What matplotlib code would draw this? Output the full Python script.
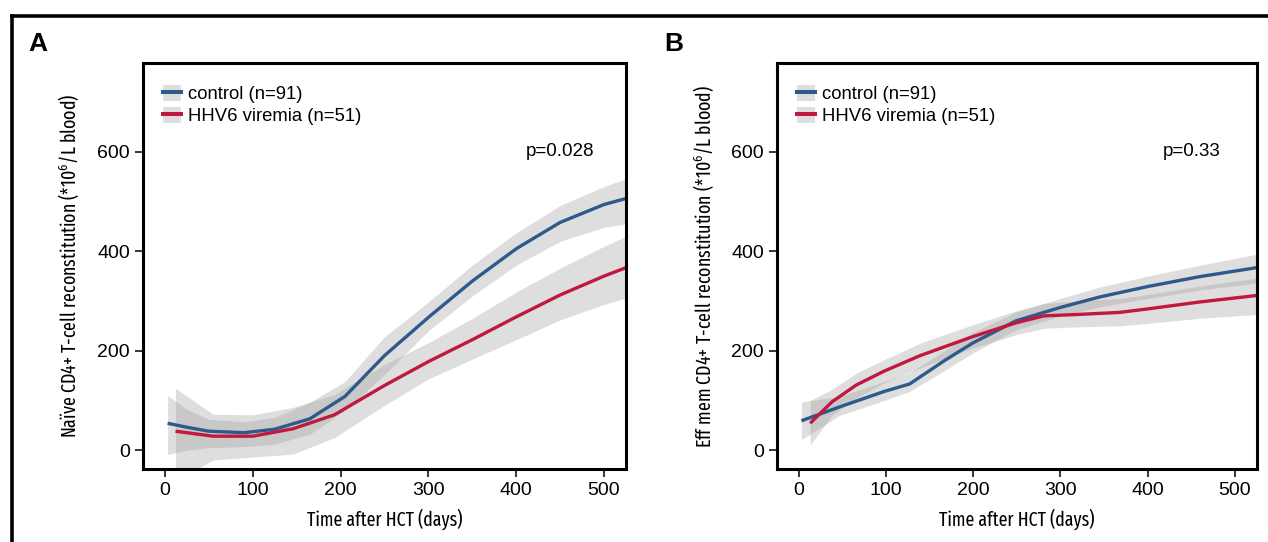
import matplotlib
matplotlib.use("Agg")
import matplotlib.pyplot as plt
from matplotlib.lines import Line2D
from matplotlib.patches import Patch
from matplotlib import font_manager

# ---------------- data ----------------
# Panel A: naive CD4+
a_ctrl_x = [3, 25, 50, 90, 125, 165, 205, 250, 300, 350, 400, 450, 500, 525]
a_ctrl_y = [54, 46, 38, 35, 42, 63, 108, 190, 267, 340, 405, 458, 494, 506]
a_ctrl_lo = [-9, 0, 5, 7, 12, 32, 80, 152, 240, 310, 372, 420, 448, 455]
a_ctrl_hi = [110, 82, 62, 57, 66, 96, 138, 228, 298, 372, 437, 492, 530, 546]

a_hhv_x = [12, 55, 100, 146, 193, 250, 300, 350, 400, 450, 500, 525]
a_hhv_y = [38, 28, 28, 43, 71, 130, 178, 222, 268, 312, 350, 367]
a_hhv_lo = [-61, -20, -14, -8, 25, 90, 143, 183, 222, 262, 293, 306]
a_hhv_hi = [124, 72, 71, 86, 112, 172, 216, 265, 318, 366, 410, 430]

# Panel B: effector memory CD4+
b_ctrl_x = [3, 47, 98, 127, 167, 199, 249, 300, 345, 400, 460, 525]
b_ctrl_y = [59, 87, 118, 133, 180, 215, 260, 287, 308, 329, 349, 367]
b_ctrl_lo = [21, 70, 100, 118, 160, 195, 242, 270, 288, 305, 322, 336]
b_ctrl_hi = [97, 108, 138, 155, 200, 236, 278, 305, 328, 350, 372, 394]

b_hhv_x = [13, 38, 66, 98, 139, 199, 249, 281, 322, 368, 400, 460, 525]
b_hhv_y = [54, 97, 131, 159, 190, 228, 256, 270, 273, 277, 284, 298, 311]
b_hhv_lo = [10, 70, 105, 135, 165, 205, 232, 245, 248, 250, 255, 265, 273]
b_hhv_hi = [100, 122, 155, 182, 215, 252, 280, 295, 300, 305, 313, 330, 346]

x_ticks = [0, 100, 200, 300, 400, 500]
y_ticks = [0, 200, 400, 600]
labels = ["control (n=91)", "HHV6 viremia (n=51)"]
p_values = ["p=0.028", "p=0.33"]
panel_letters = ["A", "B"]
ylabels = ["Naïve CD4+ T-cell reconstitution (*10$^6$/L blood)",
           "Eff mem CD4+ T-cell reconstitution (*10$^6$/L blood)"]
xlabel = "Time after HCT (days)"

# ---------------- style ----------------
BLUE = "#2e5a8b"
RED = "#c0183e"
BAND = "#9a9a9a"
BAND_ALPHA = 0.32

names = {f.name for f in font_manager.fontManager.ttflist}


def pick(cands, default):
    for c in cands:
        if c in names:
            return c
    return default


narrow = pick(["Fira Sans Extra Condensed", "Roboto Condensed", "Archivo Narrow",
               "PT Sans Narrow", "Fira Sans Condensed"], "DejaVu Sans")
main = pick(["Arimo", "Liberation Sans"], "DejaVu Sans")
plt.rcParams["font.family"] = [main, "DejaVu Sans"]
plt.rcParams["mathtext.fontset"] = "custom"
plt.rcParams["mathtext.rm"] = narrow
plt.rcParams["mathtext.it"] = narrow

fig = plt.figure(figsize=(12.68, 5.42), dpi=100)

# figure frame lines (top and left)
fig.add_artist(Line2D([12 / 1268, 1.0], [1 - 15.5 / 542] * 2, transform=fig.transFigure,
                      color="black", lw=2.6, solid_capstyle="projecting"))
fig.add_artist(Line2D([12 / 1268] * 2, [0.0, 1 - 15.5 / 542], transform=fig.transFigure,
                      color="black", lw=2.6, solid_capstyle="projecting"))

axes_pos = [[143 / 1268, 1 - 469 / 542, 483 / 1268, 405.7 / 542],
            [777 / 1268, 1 - 469 / 542, 479.7 / 1268, 405.7 / 542]]
letter_x = [28 / 1268, 664 / 1268]

panels = [
    ((a_ctrl_x, a_ctrl_y, a_ctrl_lo, a_ctrl_hi), (a_hhv_x, a_hhv_y, a_hhv_lo, a_hhv_hi)),
    ((b_ctrl_x, b_ctrl_y, b_ctrl_lo, b_ctrl_hi), (b_hhv_x, b_hhv_y, b_hhv_lo, b_hhv_hi)),
]

for i, (ctrl, hhv) in enumerate(panels):
    ax = fig.add_axes(axes_pos[i])
    for (x, y, lo, hi), col in ((ctrl, BLUE), (hhv, RED)):
        ax.fill_between(x, lo, hi, color=BAND, alpha=BAND_ALPHA, lw=0)
    for (x, y, lo, hi), col in ((ctrl, BLUE), (hhv, RED)):
        ax.plot(x, y, color=col, lw=2.4, solid_capstyle="butt")
    ax.set_xlim(-25, 525)
    ax.set_ylim(-38, 778)
    ax.set_xticks(x_ticks)
    ax.set_yticks(y_ticks)
    for s in ax.spines.values():
        s.set_linewidth(2.2)
    ax.tick_params(axis="both", direction="out", length=5.5, width=1.1,
                   labelsize=14, pad=4, color="black")
    ax.set_xlabel(xlabel, fontsize=14, family=narrow)
    ax.set_ylabel(ylabels[i], fontsize=14, family=narrow)
    ax.xaxis.set_label_coords(0.5, -0.097)
    ax.yaxis.set_label_coords(-0.128, 0.5)
    ax.text(450, 600, p_values[i], fontsize=13.5, ha="center", va="center")

    handles = [(Patch(facecolor="#dedede", edgecolor="none"), Line2D([], [], color=BLUE, lw=2.9)),
               (Patch(facecolor="#dedede", edgecolor="none"), Line2D([], [], color=RED, lw=2.9))]
    ax.legend(handles, labels, loc="upper left", frameon=False, fontsize=13.3,
              handlelength=1.0, handleheight=0.95, handletextpad=0.38,
              labelspacing=0.2, borderaxespad=0.0, borderpad=0.4,
              bbox_to_anchor=(0.026, 0.965))

    fig.text(letter_x[i], 1 - 44 / 542, panel_letters[i], fontsize=19,
             fontweight="bold", va="center", ha="left")

fig.savefig("out.png", dpi=100)
